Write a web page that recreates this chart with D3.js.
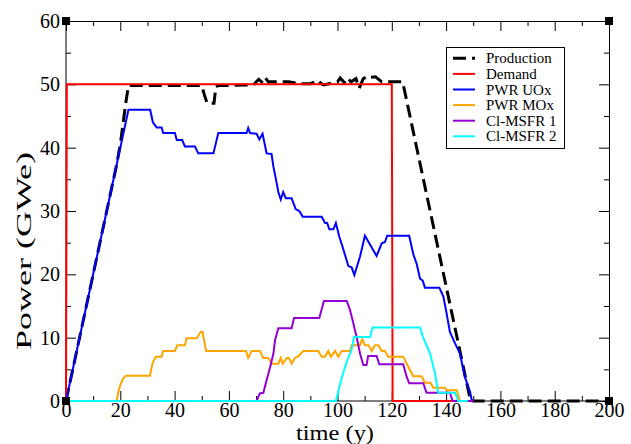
<!DOCTYPE html>
<html><head><meta charset="utf-8">
<script src="https://cdn.jsdelivr.net/npm/d3@7"></script>
<style>body{margin:0;background:#fff} svg{display:block} text{font-family:"Liberation Serif","Times New Roman",Times,serif}</style>
</head><body><svg id="c" width="631" height="444"></svg>
<script>
// ---- data ----
const seriesNames = ["Production","Demand","PWR UOx","PWR MOx","Cl-MSFR 1","Cl-MSFR 2"];
const seriesColors = ["#000000","#ff0000","#0000ff","#ffa500","#9400d3","#00ffff"];
const production = [[0,0],[18.5,37],[20,40.5],[22,47],[23,49.8],[50,49.8],[51,48.3],[52,47],[54.5,47],[55.2,49.6],[56,49.8],[69,49.9],[71,50.8],[72.5,50.2],[73.5,51],[74.5,50.4],[77,50.4],[82,50.4],[86,50.1],[90,50.1],[93,50.6],[94,50.1],[95,49.9],[100,50.4],[101,51],[102.5,50.3],[103.5,51],[105,50.4],[106.8,50.9],[108,49.4],[109.5,50.9],[111.3,51.3],[112,51.1],[114,51.2],[116.3,50.4],[124,50.4],[149,0],[200,0]];
const demand = [[0,0],[0.3,50],[120,50],[120.3,0],[145,0]];
const pwrUOx = [[0,0],[23,46],[31,46],[32,44],[33.4,43.2],[35.2,43.2],[35.8,42.3],[40.1,42.3],[40.8,41.2],[42.8,41.2],[43.8,40.2],[47.5,40.2],[48.7,39.1],[54.3,39.1],[56.1,42.3],[66.5,42.3],[67.1,43.1],[67.8,42.3],[70.2,42.2],[71.2,41.3],[72.4,42.2],[73.9,39.1],[75.7,39],[76.4,37],[77.6,34.4],[78.2,33],[79.1,31.8],[80,33],[81,32],[83.1,32],[84.6,30.3],[85.9,30],[87.2,29.1],[94.2,29.1],[95.4,28.1],[96.2,28.1],[97,27.1],[98.5,27.1],[99.4,28.1],[100.7,25.9],[101.9,24.3],[104,21.3],[105.2,21.1],[106.2,19.9],[108.3,22.8],[110.1,26.1],[111.7,24.9],[114.4,22.9],[116.3,24.9],[117.5,25.1],[118.3,26.1],[126.4,26.1],[127.9,23.2],[129.2,21.6],[130.4,19.3],[131.4,19],[132.2,17.9],[137.5,17.9],[139,16.5],[140.2,13.8],[141.4,10.9],[143.3,9.1],[145.1,7.5],[146.9,3.8],[148.8,1.5],[149.5,0],[150,0]];
const pwrMOx = [[0,0],[18.7,0],[19.3,1.5],[20,2.5],[21,3.5],[22,4],[30.9,4],[31.9,6],[33.1,7],[35.2,7],[35.8,7.9],[40.1,7.9],[41,8.8],[43.8,8.8],[44.4,9.9],[48.1,9.9],[49.6,10.9],[50.3,10.9],[51.6,7.9],[66.3,7.9],[67.1,6.8],[68.4,7.9],[71.4,7.9],[72.7,6.8],[74.5,6.8],[75.8,5.9],[78.2,5.9],[79.1,6.8],[79.8,5.9],[81.3,6.8],[82.1,6.8],[83.1,5.9],[84.3,6.8],[85.4,7],[87.4,7.9],[92.9,7.9],[94.2,7],[95.4,7],[96.6,7.9],[97.6,7],[99.1,7.9],[100.3,7],[101.5,7.9],[104.6,7.9],[105.2,8.8],[108.3,8.8],[109.1,9.8],[110.1,8.8],[111.4,8.8],[112.6,7.9],[113.8,8.8],[115,8.8],[116.3,7.9],[117.5,7.9],[118.7,7],[124.2,7],[125.5,5.9],[126.7,4.9],[127.9,3.9],[131,3.9],[132.2,2.9],[134.2,2.9],[135.3,2.1],[139.6,2.1],[140.2,1.7],[143.9,1.7],[145.1,0],[150,0]];
const msfr1 = [[0,0],[70.2,0],[71.4,1.2],[72.7,1.3],[73.9,3.3],[75.1,5.2],[76.4,7.5],[77,9.6],[78.2,11.5],[83.1,11.5],[84,13.1],[93.3,13.1],[95,15.8],[103.4,15.8],[104.6,14.4],[105.8,12.3],[107,10.2],[108.3,7.5],[109.5,5.7],[110.7,5.7],[111.3,7.1],[114.4,7.1],[115.4,5.8],[124.2,5.8],[125.5,3.8],[126.4,2.8],[131.6,2.8],[132.8,1.3],[141.4,1.3],[142.4,0],[150,0]];
const msfr2 = [[0,0],[99.4,0],[100.3,1.5],[101.5,3.6],[103.4,6.2],[105.2,8.1],[106.1,10.1],[112,10.1],[112.9,11.6],[130.4,11.6],[131.4,10.2],[134.1,7.5],[135.9,4.4],[137.1,1.3],[143.3,1.3],[144.5,0],[148,0]];
const xTickValues = [0,20,40,60,80,100,120,140,160,180,200];
const yTickValues = [0,10,20,30,40,50,60];
const xLabel = "time (y)";
const yLabel = "Power (GWe)";

// ---- chart ----
const seriesData = [production, demand, pwrUOx, pwrMOx, msfr1, msfr2];
const svg = d3.select("#c");
const L = 66, R = 609, T = 21, B = 401;
const x = d3.scaleLinear().domain([0,200]).range([L,R]);
const y = d3.scaleLinear().domain([0,60]).range([B,T]);

const xMinor = d3.range(10,200,20);
const yMinor = d3.range(5,60,10);

function styleAxis(g){ g.select(".domain").remove(); g.selectAll("line").attr("stroke","#000"); g.attr("font-family",null).attr("font-size",null); }

svg.append("g").attr("transform",`translate(0,${B})`)
  .call(d3.axisBottom(x).tickValues(xTickValues).tickSizeInner(-10).tickSizeOuter(0).tickPadding(2).tickFormat(d3.format("d")))
  .call(styleAxis).selectAll("text").attr("font-size",20).attr("fill","#000");
svg.append("g").attr("transform",`translate(0,${B})`)
  .call(d3.axisBottom(x).tickValues(xMinor).tickSizeInner(-5).tickSizeOuter(0).tickFormat(""))
  .call(styleAxis);
svg.append("g").attr("transform",`translate(0,${T})`)
  .call(d3.axisTop(x).tickValues(xTickValues).tickSizeInner(-10).tickSizeOuter(0).tickFormat(""))
  .call(styleAxis);
svg.append("g").attr("transform",`translate(0,${T})`)
  .call(d3.axisTop(x).tickValues(xMinor).tickSizeInner(-5).tickSizeOuter(0).tickFormat(""))
  .call(styleAxis);
svg.append("g").attr("transform",`translate(${L},0)`)
  .call(d3.axisLeft(y).tickValues(yTickValues).tickSizeInner(-10).tickSizeOuter(0).tickPadding(6).tickFormat(d3.format("d")))
  .call(styleAxis).selectAll("text").attr("font-size",20).attr("fill","#000");
svg.append("g").attr("transform",`translate(${L},0)`)
  .call(d3.axisLeft(y).tickValues(yMinor).tickSizeInner(-5).tickSizeOuter(0).tickFormat(""))
  .call(styleAxis);
svg.append("g").attr("transform",`translate(${R},0)`)
  .call(d3.axisRight(y).tickValues(yTickValues).tickSizeInner(-10).tickSizeOuter(0).tickFormat(""))
  .call(styleAxis);
svg.append("g").attr("transform",`translate(${R},0)`)
  .call(d3.axisRight(y).tickValues(yMinor).tickSizeInner(-5).tickSizeOuter(0).tickFormat(""))
  .call(styleAxis);

// frame
svg.append("line").attr("x1",L).attr("x2",L).attr("y1",T).attr("y2",B).attr("stroke","#000");
svg.append("line").attr("x1",L).attr("x2",R).attr("y1",B).attr("y2",B).attr("stroke","#000");
svg.append("line").attr("x1",L).attr("x2",R+0.5).attr("y1",T+0.5).attr("y2",T+0.5).attr("stroke","#000");
svg.append("line").attr("x1",R+0.5).attr("x2",R+0.5).attr("y1",T).attr("y2",B).attr("stroke","#000");

// series
const line = d3.line().x(d=>x(d[0])).y(d=>y(d[1]));
seriesData.forEach((data,i)=>{
  svg.append("path").datum(data).attr("d",line).attr("fill","none")
    .attr("stroke",seriesColors[i])
    .attr("stroke-width", i===0 ? 3 : 2)
    .attr("stroke-dasharray", i===0 ? "13,6" : null)
    .attr("stroke-linejoin","miter");
});

// corner markers
[[0,0],[0,60],[200,0],[200,60]].forEach(c=>{
  svg.append("rect").attr("x",x(c[0])-4).attr("y",y(c[1])-4).attr("width",8).attr("height",8).attr("fill","#000");
});

// axis titles
svg.append("text").attr("x",335).attr("y",440).attr("text-anchor","middle").attr("font-size",20)
  .attr("textLength",78).attr("lengthAdjust","spacingAndGlyphs").text(xLabel);
svg.append("text").attr("transform","translate(31,251) rotate(-90)").attr("text-anchor","middle").attr("font-size",20)
  .attr("textLength",198).attr("lengthAdjust","spacingAndGlyphs").text(yLabel);

// legend
const lg = svg.append("g");
lg.append("rect").attr("x",446.5).attr("y",47.5).attr("width",118).attr("height",101)
  .attr("fill","#fff").attr("stroke","#000").attr("stroke-width",1);
seriesNames.forEach((n,i)=>{
  const cy = 58.3 + i*15.6;
  lg.append("line").attr("x1",453).attr("x2",475).attr("y1",cy).attr("y2",cy)
    .attr("stroke",seriesColors[i]).attr("stroke-width", i===0 ? 3 : 2)
    .attr("stroke-dasharray", i===0 ? "13,6" : null);
  lg.append("text").attr("x",486).attr("y",cy+5).attr("font-size",15).attr("fill","#000").text(n);
});
</script></body></html>
